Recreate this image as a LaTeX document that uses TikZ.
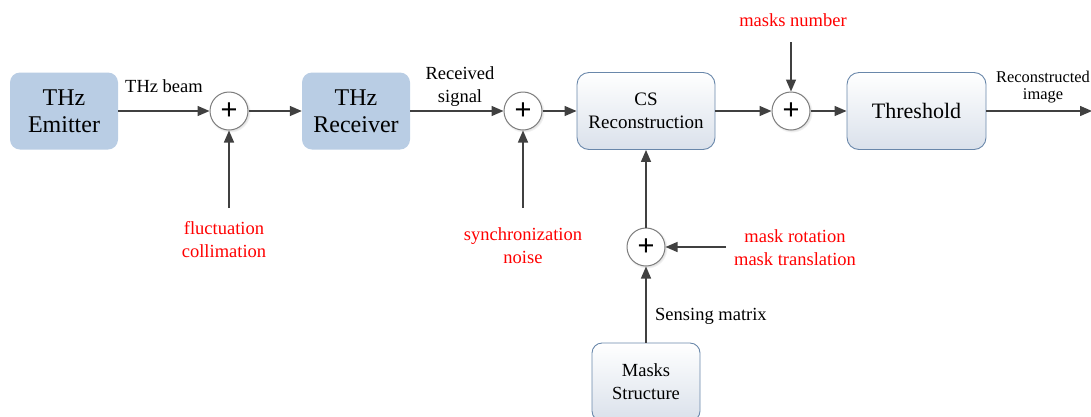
\documentclass[tikz,border=0pt]{standalone}
\usepackage{fontspec}
\setmainfont{Liberation Serif}
\setsansfont{Liberation Sans}
\usetikzlibrary{arrows.meta,shadows}

\definecolor{emitblue}{RGB}{185,205,228}
\definecolor{boxedge}{RGB}{105,135,170}
\definecolor{boxshade}{RGB}{218,225,235}
\definecolor{wire}{RGB}{64,64,64}
\definecolor{noisered}{RGB}{255,0,0}
\definecolor{ringgray}{RGB}{125,125,125}

\begin{document}
\begin{tikzpicture}[x=1pt,y=-1pt,
  hwbox/.style={rectangle, rounded corners=10pt, fill=emitblue,
    minimum width=108pt, minimum height=77pt, inner sep=0pt, align=center,
    font=\fontsize{24}{27}\selectfont},
  procbox/.style={rectangle, rounded corners=12pt, draw=boxedge, line width=0.9pt,
    top color=white, bottom color=boxshade, minimum height=77pt,
    inner sep=0pt, align=center},
  sumnode/.style={circle, draw=ringgray, line width=1pt, fill=white,
    minimum size=38pt, inner sep=0pt, font=\sffamily\fontsize{29}{29}\selectfont,
    circular drop shadow={opacity=0.25, shadow xshift=0.8pt, shadow yshift=-0.8pt}},
  flow/.style={draw=wire, line width=1.4pt, -{Triangle[length=12pt,width=10pt]}},
  lbl/.style={inner sep=0pt, align=center, font=\fontsize{18.5}{23}\selectfont},
  noise/.style={lbl, text=noisered}]

\useasboundingbox (0,0) rectangle (1091,416);
\clip (0,0) rectangle (1091,416);

% main signal chain
\node[hwbox] (emit) at (64,111) {THz\\Emitter};
\node[sumnode] (s1) at (229,111) {+};
\node[hwbox] (recv) at (356,111) {THz\\Receiver};
\node[sumnode] (s2) at (523,111) {+};
\node[procbox, minimum width=138pt, font=\fontsize{19}{23}\selectfont]
  (cs) at (646,111) {CS\\Reconstruction};
\node[sumnode] (s3) at (791,111) {+};
\node[procbox, minimum width=139pt, font=\fontsize{22}{26}\selectfont]
  (thr) at (916.5,111) {Threshold};
\coordinate (out) at (1092,111);

% sensing branch
\node[sumnode] (s4) at (646,247) {+};
\node[procbox, minimum width=108pt, minimum height=78pt, rounded corners=10pt,
  font=\fontsize{18.5}{23}\selectfont] (masks) at (646,382) {Masks\\Structure};

% disturbance entry points
\coordinate (fl) at (229,208);
\coordinate (sy) at (523,208);
\coordinate (mn) at (791,42);
\coordinate (mr) at (726,247);

% connectors
\draw[flow] (emit) -- (s1);
\draw[flow] (s1) -- (recv);
\draw[flow] (recv) -- (s2);
\draw[flow] (s2) -- (cs);
\draw[flow] (cs) -- (s3);
\draw[flow] (s3) -- (thr);
\draw[flow] (thr) -- (out);
\draw[flow] (fl) -- (s1);
\draw[flow] (sy) -- (s2);
\draw[flow] (mn) -- (s3);
\draw[flow] (mr) -- (s4);
\draw[flow] (masks) -- (s4);
\draw[flow] (s4) -- (cs);

% signal labels
\node[lbl, anchor=base] (tb) at (164,92) {THz beam};
\node[lbl] (rs) at (460,87) {Received\\signal};
\node[lbl, font=\fontsize{16.4}{17}\selectfont] (ri) at (1043,87) {Reconstructed\\image};
\node[lbl, anchor=base west] (sm) at (655,320) {Sensing matrix};

% disturbance labels
\node[noise] (flt) at (224,240) {fluctuation\\collimation};
\node[noise] (syt) at (523,245.5) {synchronization\\noise};
\node[noise, anchor=base] (mnt) at (793,26) {masks number};
\node[noise] (mrt) at (795,247.5) {mask rotation\\mask translation};

\end{tikzpicture}
\end{document}
